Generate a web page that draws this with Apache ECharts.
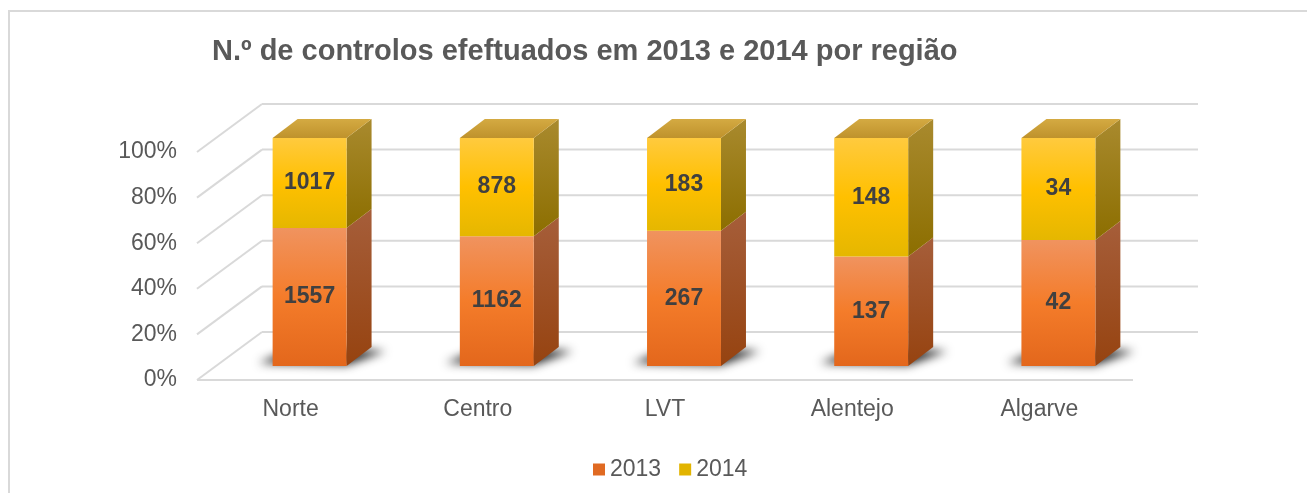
<!DOCTYPE html>
<html>
<head>
<meta charset="utf-8">
<script src="https://cdn.jsdelivr.net/npm/echarts@6/dist/echarts.min.js"></script>
<style>
  html, body { margin: 0; padding: 0; background: #fff; }
  #chart { width: 1307px; height: 493px; }
</style>
</head>
<body>
<div id="chart"></div>
<script>
var categories = ['Norte', 'Centro', 'LVT', 'Alentejo', 'Algarve'];
var controls2013 = [1557, 1162, 267, 137, 42];
var controls2014 = [1017, 878, 183, 148, 34];
var yTicks = [0, 20, 40, 60, 80, 100];
var seriesNames = ['2013', '2014'];

var FONT = "Arial, 'Liberation Sans', sans-serif";
var TEXT = '#595959';
var GRID = '#D9D9D9';

// fake 3d: wall depth and bar placement inside it
var WALL_DX = 65, WALL_DY = -48;
var BAR_DX = 19, BAR_DY = -14;
var DEPTH_DX = 25, DEPTH_DY = -19;
var SHADOW_SHIFT = 3000; // shape drawn off screen, only its blurred shadow lands on the floor

var faces = {
  '2013': {
    front: ['#F0935F', '#F47C2A', '#E3671C'],
    side: ['#A65E3A', '#964310'],
    top: ['#D98A5A', '#C46A36'],
    legend: '#E06A22'
  },
  '2014': {
    front: ['#FFCA3E', '#FFC000', '#E5B700'],
    side: ['#A98A2E', '#8C6E00'],
    top: ['#D4AA42', '#BF922C'],
    legend: '#E2B400'
  }
};

function vgrad(stops) {
  var list = stops.map(function(c, i) {
    return { offset: i / (stops.length - 1), color: c };
  });
  return new echarts.graphic.LinearGradient(0, 0, 0, 1, list);
}

// shares of each year inside the region total
var share2013 = controls2013.map(function(v, i) { return v / (v + controls2014[i]) * 100; });

function renderWall(params, api) {
  var cs = params.coordSys;
  var tick = api.value(1);
  var y = api.coord([0, tick])[1];
  var x0 = cs.x, x1 = cs.x + cs.width;
  var style = { stroke: GRID, lineWidth: 2 };
  var children = [
    { type: 'line', shape: { x1: x0, y1: y, x2: x0 + WALL_DX, y2: y + WALL_DY }, style: style },
    { type: 'line', shape: { x1: x0 + WALL_DX, y1: y + WALL_DY, x2: x1 + WALL_DX, y2: y + WALL_DY }, style: style }
  ];
  if (tick === 0) {
    children.push({ type: 'line', shape: { x1: x0, y1: y, x2: x1, y2: y }, style: style });
  }
  return { type: 'group', children: children };
}

function makeBarRenderer(name, isBottom, isTop) {
  var col = faces[name];
  return function(params, api) {
    var idx = api.value(0);
    var lo = api.coord([idx, api.value(1)]);
    var hi = api.coord([idx, api.value(2)]);
    var w = api.size([1, 0])[0] * 0.395;
    var left = lo[0] + BAR_DX - w / 2;
    var right = left + w;
    var yb = lo[1] + BAR_DY;
    var yt = hi[1] + BAR_DY;
    var children = [];

    if (isBottom) {
      var s = SHADOW_SHIFT;
      children.push({
        type: 'polygon',
        shape: { points: [
          [left - 14 - s, yb - 3], [right - s, yb - 1], [right + DEPTH_DX + 14 - s, yb + DEPTH_DY + 4], [left + DEPTH_DX - s, yb + DEPTH_DY]
        ] },
        style: {
          fill: '#000',
          shadowBlur: 10,
          shadowOffsetX: s,
          shadowColor: 'rgba(0,0,0,0.85)'
        }
      });
    }

    children.push({
      type: 'polygon',
      shape: { points: [
        [right, yt], [right + DEPTH_DX, yt + DEPTH_DY], [right + DEPTH_DX, yb + DEPTH_DY], [right, yb]
      ] },
      style: { fill: vgrad(col.side) }
    });

    children.push({
      type: 'rect',
      shape: { x: left, y: yt, width: w, height: yb - yt },
      style: { fill: vgrad(col.front) }
    });

    if (isTop) {
      children.push({
        type: 'polygon',
        shape: { points: [
          [left, yt], [right, yt], [right + DEPTH_DX, yt + DEPTH_DY], [left + DEPTH_DX, yt + DEPTH_DY]
        ] },
        style: { fill: vgrad(col.top) }
      });
    }

    children.push({
      type: 'text',
      style: {
        x: (left + right) / 2,
        y: (yt + yb) / 2,
        text: String(api.value(3)),
        fill: '#404040',
        font: 'bold 23px ' + FONT,
        align: 'center',
        verticalAlign: 'middle'
      }
    });

    return { type: 'group', children: children };
  };
}

var chart = echarts.init(document.getElementById('chart'));

chart.setOption({
  animation: false,
  backgroundColor: '#fff',
  title: {
    text: 'N.º de controlos efeftuados em 2013 e 2014 por região',
    left: 207,
    top: 32,
    textStyle: { fontFamily: FONT, fontSize: 29, fontWeight: 'bold', color: TEXT }
  },
  legend: {
    data: seriesNames,
    left: 588,
    top: 453,
    icon: 'rect',
    itemWidth: 12,
    itemHeight: 12,
    itemGap: 18,
    textStyle: { fontFamily: FONT, fontSize: 23, color: TEXT }
  },
  graphic: [{
    type: 'rect',
    shape: { x: 9, y: 11, width: 1400, height: 600 },
    style: { fill: 'none', stroke: GRID, lineWidth: 2 },
    silent: true
  }],
  grid: { left: 197, right: 174, top: 152, bottom: 113 },
  xAxis: {
    type: 'category',
    data: categories,
    axisLine: { show: false },
    axisTick: { show: false },
    axisLabel: { fontFamily: FONT, fontSize: 23, color: TEXT, margin: 18 }
  },
  yAxis: {
    type: 'value',
    min: 0,
    max: 100,
    interval: 20,
    axisLine: { show: false },
    axisTick: { show: false },
    splitLine: { show: false },
    axisLabel: { fontFamily: FONT, fontSize: 23, color: TEXT, margin: 20, formatter: '{value}%' }
  },
  series: [
    {
      type: 'custom',
      name: 'walls',
      silent: true,
      renderItem: renderWall,
      data: yTicks.map(function(t) { return [0, t]; }),
      z: 1
    },
    {
      type: 'custom',
      name: seriesNames[0],
      itemStyle: { color: faces['2013'].legend },
      renderItem: makeBarRenderer('2013', true, false),
      data: categories.map(function(c, i) { return [i, 0, share2013[i], controls2013[i]]; }),
      z: 2
    },
    {
      type: 'custom',
      name: seriesNames[1],
      itemStyle: { color: faces['2014'].legend },
      renderItem: makeBarRenderer('2014', false, true),
      data: categories.map(function(c, i) { return [i, share2013[i], 100, controls2014[i]]; }),
      z: 2
    }
  ]
});
</script>
</body>
</html>
